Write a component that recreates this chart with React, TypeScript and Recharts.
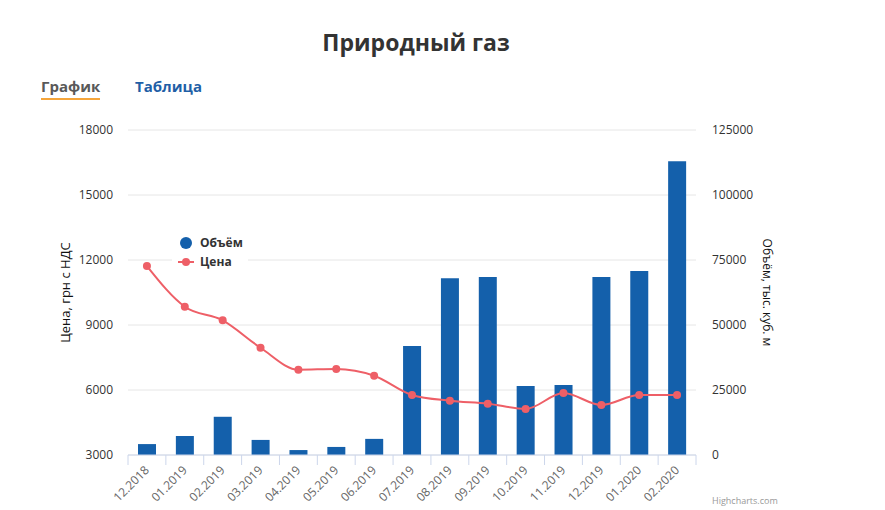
import React from 'react';
import { Bar, CartesianGrid, ComposedChart, Legend, Line, XAxis, YAxis } from 'recharts';

const months = [
  '12.2018', '01.2019', '02.2019', '03.2019', '04.2019', '05.2019', '06.2019', '07.2019',
  '08.2019', '09.2019', '10.2019', '11.2019', '12.2019', '01.2020', '02.2020',
];
const volume = [4200, 7300, 14700, 5800, 1900, 3100, 6200, 41900, 68000, 68500, 26500, 26900, 68500, 70800, 113000];
const price = [11720, 9845, 9215, 7950, 6940, 6970, 6660, 5770, 5505, 5370, 5125, 5860, 5310, 5770, 5770];
const priceTicks = [3000, 6000, 9000, 12000, 15000, 18000];
const volumeTicks = [0, 25000, 50000, 75000, 100000, 125000];

const data = months.map((m, i) => ({ month: m, volume: volume[i], price: price[i] }));

const FONT = '"Open Sans", sans-serif';
const BLUE = '#1460ab';
const RED = '#ee5f67';

const XTick = (props: any) => {
  const { x, y, payload, index, visibleTicksCount } = props;
  const half = payload?.offset || 568 / 15 / 2;
  const base = y - 6;
  const last = index === (visibleTicksCount ?? months.length) - 1;
  return (
    <g>
      <line x1={x - half} y1={base} x2={x - half} y2={base + 10} stroke="#ccd6eb" />
      {last && <line x1={x + half} y1={base} x2={x + half} y2={base + 10} stroke="#ccd6eb" />}
      <text
        x={x + 3}
        y={base + 16}
        textAnchor="end"
        fontSize={12}
        fontFamily={FONT}
        fill="#666"
        transform={`rotate(-45, ${x + 3}, ${base + 16})`}
      >
        {payload.value}
      </text>
    </g>
  );
};

const LeftLabel = ({ viewBox }: any) => {
  const cx = viewBox.x + 65;
  const cy = viewBox.y + viewBox.height / 2;
  return (
    <text x={cx} y={cy} textAnchor="middle" dominantBaseline="central" fontSize={13} fontFamily={FONT} fill="#111" transform={`rotate(-90, ${cx}, ${cy})`}>
      Цена, грн с НДС
    </text>
  );
};

const RightLabel = ({ viewBox }: any) => {
  const cx = viewBox.x + 71;
  const cy = viewBox.y + viewBox.height / 2;
  return (
    <text x={cx} y={cy} textAnchor="middle" dominantBaseline="central" fontSize={12} fontFamily={FONT} fill="#111" transform={`rotate(90, ${cx}, ${cy})`}>
      Объём, тыс. куб. м
    </text>
  );
};

const LegendBox = ({ payload }: any) => (
  <div style={{ background: '#fff', padding: '2px 0 2px 6px' }}>
    {(payload || []).map((item: any) => (
      <div key={item.value} style={{ display: 'flex', alignItems: 'center', height: 19 }}>
        <svg width={16} height={12} style={{ marginRight: 6 }}>
          {item.dataKey === 'price' ? (
            <>
              <line x1={0} y1={6} x2={16} y2={6} stroke={RED} strokeWidth={2} />
              <circle cx={8} cy={6} r={4} fill={RED} />
            </>
          ) : (
            <circle cx={8} cy={6} r={6} fill={BLUE} />
          )}
        </svg>
        <span style={{ fontFamily: FONT, fontSize: 12, fontWeight: 700, color: '#333' }}>{item.value}</span>
      </div>
    ))}
  </div>
);

export default function App() {
  return (
    <div style={{ position: 'absolute', left: 0, top: 0, width: 885, height: 510, overflow: 'hidden', background: '#fff', fontFamily: FONT }}>
      <div style={{ position: 'absolute', left: 0, width: 832, top: 26, textAlign: 'center', fontSize: 23, fontWeight: 700, color: '#333' }}>
        Природный газ
      </div>
      <div style={{ position: 'absolute', left: 41, top: 76, fontSize: 15, fontWeight: 700, color: '#595959', paddingBottom: 2, borderBottom: '2px solid #f5a53a' }}>
        График
      </div>
      <div style={{ position: 'absolute', left: 135, top: 76, fontSize: 15, fontWeight: 700, color: '#1f5fa6' }}>
        Таблица
      </div>
      <div style={{ position: 'absolute', left: 712, top: 495, fontSize: 9, lineHeight: '12px', color: '#999' }}>Highcharts.com</div>
      <div style={{ position: 'absolute', left: 0, top: 0 }}>
        <ComposedChart width={885} height={510} data={data} margin={{ top: 130, right: 0, bottom: 0, left: 0 }}>
          <CartesianGrid yAxisId="left" vertical={false} stroke="#e6e6e6" />
          <XAxis
            dataKey="month"
            height={55}
            axisLine={{ stroke: '#ccd6eb' }}
            tickLine={false}
            tickSize={6}
            tickMargin={0}
            interval={0}
            tick={<XTick />}
          />
          <YAxis
            yAxisId="left"
            orientation="left"
            width={128}
            domain={[3000, 18000]}
            ticks={priceTicks}
            allowDataOverflow
            axisLine={false}
            tickLine={false}
            tickMargin={9}
            tick={{ fontSize: 12, fontFamily: FONT, fill: '#333' }}
            label={<LeftLabel />}
          />
          <YAxis
            yAxisId="right"
            orientation="right"
            width={189}
            domain={[0, 125000]}
            ticks={volumeTicks}
            axisLine={false}
            tickLine={false}
            tickMargin={10}
            tick={{ fontSize: 12, fontFamily: FONT, fill: '#333', textAnchor: 'start' }}
            label={<RightLabel />}
          />
          <Legend
            layout="vertical"
            align="center"
            verticalAlign="middle"
            content={<LegendBox />}
            wrapperStyle={{ left: 172, top: 231, width: 76 }}
          />
          <Bar yAxisId="right" dataKey="volume" name="Объём" fill={BLUE} barSize={18} isAnimationActive={false} />
          <Line
            yAxisId="left"
            type="monotone"
            dataKey="price"
            name="Цена"
            stroke={RED}
            strokeWidth={2}
            dot={{ r: 4, fill: RED, stroke: RED, strokeWidth: 0 }}
            activeDot={false}
            isAnimationActive={false}
          />
        </ComposedChart>
      </div>
    </div>
  );
}
